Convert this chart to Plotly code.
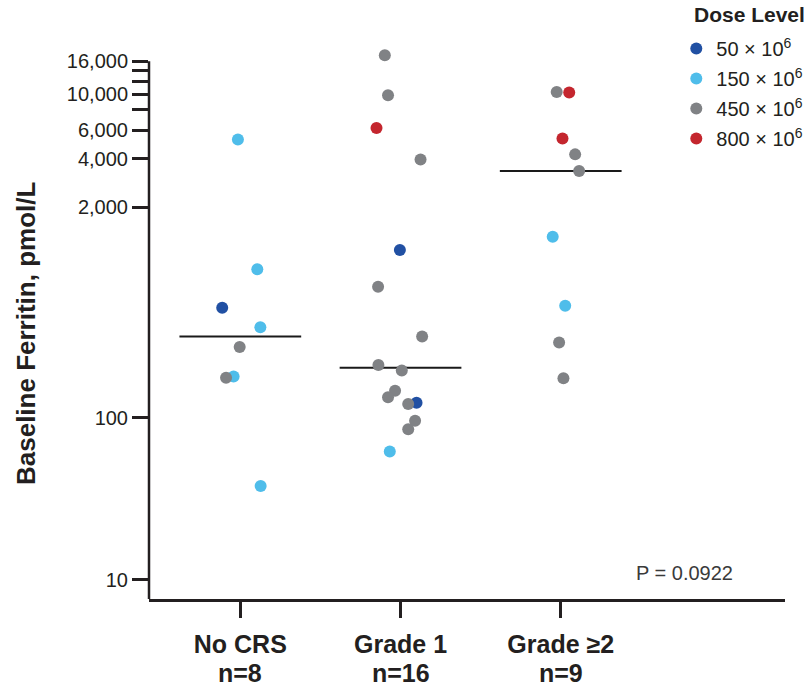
import numpy as np
import plotly.graph_objects as go

# Groups and labels
groups = ["No CRS", "Grade 1", "Grade ≥2"]
group_counts = ["n=8", "n=16", "n=9"]

# Baseline ferritin (pmol/L) per patient, with dose level and horizontal jitter
no_crs_values = [5250, 828, 480, 363, 274, 180, 177, 38]
no_crs_dose = ["150", "150", "50", "150", "450", "150", "450", "150"]
no_crs_jitter = [-0.015, 0.106, -0.113, 0.125, -0.004, -0.042, -0.089, 0.127]

grade1_values = [17400, 9860, 6190, 3950, 1089, 647, 318, 212, 196, 147, 134, 124, 122, 96, 85, 62]
grade1_dose = ["450", "450", "800", "450", "50", "450", "450", "450", "450", "450", "450",
               "50", "450", "450", "450", "150"]
grade1_jitter = [-0.098, -0.078, -0.150, 0.125, -0.004, -0.140, 0.135, -0.138, 0.008,
                 -0.034, -0.078, 0.100, 0.048, 0.091, 0.048, -0.067]

grade2_values = [10330, 10240, 5330, 4250, 3350, 1316, 493, 292, 176]
grade2_dose = ["450", "800", "800", "450", "450", "150", "150", "450", "450"]
grade2_jitter = [-0.025, 0.053, 0.011, 0.090, 0.115, -0.050, 0.028, -0.010, 0.017]

dose_levels = ["50", "150", "450", "800"]
dose_names = ["50 × 10<sup>6</sup>", "150 × 10<sup>6</sup>", "450 × 10<sup>6</sup>", "800 × 10<sup>6</sup>"]
dose_colors = ["#2150a3", "#4fbdea", "#808285", "#c4262e"]

y_tickvals = [10, 100, 2000, 4000, 6000, 8000, 10000, 12000, 14000, 16000]
y_ticktext = ["10", "100", "2,000", "4,000", "6,000", "", "10,000", "", "", "16,000"]

p_value_text = "P = 0.0922"

AXIS = "#231f20"
FONT = "Liberation Sans, Arial, sans-serif"

# y range: a little headroom above the last tick so the highest point fits
Y_LO, Y_HI = np.log10(7.6), np.log10(18500)
axis_top = (np.log10(y_tickvals[-1]) - Y_LO) / (Y_HI - Y_LO)

all_values = [no_crs_values, grade1_values, grade2_values]
all_doses = [no_crs_dose, grade1_dose, grade2_dose]
all_jitter = [no_crs_jitter, grade1_jitter, grade2_jitter]

fig = go.Figure()

# Median lines per group
for gi, vals in enumerate(all_values):
    med = float(np.median(vals))
    fig.add_trace(go.Scatter(
        x=[gi - 0.38, gi + 0.38], y=[med, med], mode="lines",
        line=dict(color="#1a1a1a", width=2), showlegend=False, hoverinfo="skip",
        cliponaxis=False,
    ))

# One trace per dose level
for dl, name, col in zip(dose_levels, dose_names, dose_colors):
    xs, ys = [], []
    for gi in range(len(groups)):
        for v, d, j in zip(all_values[gi], all_doses[gi], all_jitter[gi]):
            if d == dl:
                xs.append(gi + j)
                ys.append(v)
    fig.add_trace(go.Scatter(
        x=xs, y=ys, mode="markers", name=name, legendgroup=dl,
        marker=dict(color=col, size=12, line=dict(width=0)),
        cliponaxis=False,
    ))

# y-axis spine stops at the top tick
fig.add_shape(
    type="line", xref="x domain", yref="y domain",
    x0=0, x1=0, y0=0, y1=axis_top,
    line=dict(color=AXIS, width=2.5), layer="above",
)

# Group sizes under the category labels
for gi, n in enumerate(group_counts):
    fig.add_annotation(
        text=f"<b>{n}</b>", xref="x", yref="paper", x=gi, y=-0.1345,
        xanchor="center", yanchor="middle", showarrow=False,
        font=dict(family=FONT, size=25, color=AXIS),
    )

# Legend heading
fig.add_annotation(
    text="<b>Dose Level</b>", xref="paper", yref="paper", x=0.854, y=1.0657,
    xanchor="left", yanchor="middle", showarrow=False,
    font=dict(family=FONT, size=21, color=AXIS),
)

fig.add_annotation(
    text="<b>Baseline Ferritin, pmol/L</b>", textangle=-90,
    xref="paper", yref="paper", x=-0.1937, y=0.485, xanchor="center", yanchor="middle",
    showarrow=False, font=dict(family=FONT, size=26, color=AXIS),
)
fig.add_annotation(
    text=p_value_text, xref="paper", yref="paper", x=0.763, y=0.047,
    xanchor="left", yanchor="middle", showarrow=False,
    font=dict(family=FONT, size=20, color="#3a3a3a"),
)

fig.update_layout(
    width=808, height=687,
    margin=dict(l=149, r=23, t=51, b=88, autoexpand=False),
    paper_bgcolor="white", plot_bgcolor="white",
    font=dict(family=FONT, color=AXIS),
    legend=dict(
        font=dict(size=20, color=AXIS),
        xref="container", yref="container",
        x=0.837, y=0.9578, xanchor="left", yanchor="top",
        bgcolor="rgba(0,0,0,0)", itemsizing="trace", tracegroupgap=1,
    ),
    xaxis=dict(
        range=[-0.57, 3.4], tickmode="array", tickvals=[0, 1, 2],
        ticktext=[f"<b>{g}</b>" for g in groups],
        showline=True, linecolor=AXIS, linewidth=2.5,
        ticks="outside", ticklen=16, tickwidth=2.5, tickcolor=AXIS,
        ticklabelstandoff=5,
        showgrid=False, zeroline=False,
        tickfont=dict(size=25, color=AXIS, family=FONT),
    ),
    yaxis=dict(
        type="log", range=[Y_LO, Y_HI],
        tickmode="array", tickvals=y_tickvals, ticktext=y_ticktext,
        showline=False,
        ticks="outside", ticklen=16, tickwidth=2.5, tickcolor=AXIS,
        showgrid=False, zeroline=False,
        tickfont=dict(size=20, color=AXIS, family=FONT),
    ),
)

fig.write_html("out.html")
